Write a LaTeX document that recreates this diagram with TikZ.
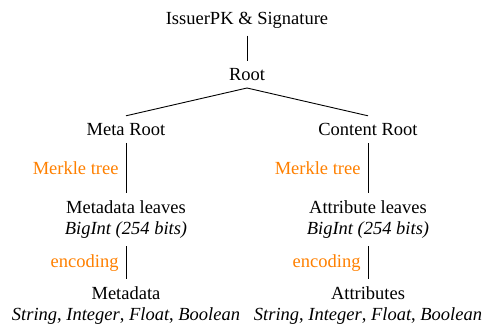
\documentclass[tikz,border=0pt]{standalone}
\usepackage{fontspec}
\setmainfont{Liberation Serif}
\usepackage{xcolor}
\usepackage{tikz}

\begin{document}
\begin{tikzpicture}[x=1pt, y=1pt, line width=.9pt,
    every node/.style={draw=none, inner sep=7pt, anchor=north, align=center,
        font=\fontsize{18.5}{21}\selectfont},
    lbl/.style={left, text=orange}]
            \useasboundingbox (0,0) rectangle (483,-333);

            \node (sig) at (247, -4.4) {IssuerPK \& Signature};
            \node (root) at (247, -60.8) {Root};
            \node (meta) at (126, -115.8) {Meta Root};
            \node (content) at (368, -115.8) {Content Root};
            \node (mleaves) at (126, -193.4) {Metadata leaves\\\textit{BigInt (254 bits)}};
            \node (aleaves) at (368, -193.4) {Attribute leaves\\\textit{BigInt (254 bits)}};
            \node (mdata) at (126, -279.4) {Metadata\\\textit{String}, \textit{Integer}, \textit{Float}, \textit{Boolean}};
            \node (attrs) at (368, -279.4) {Attributes\\\textit{String}, \textit{Integer}, \textit{Float}, \textit{Boolean}};

            \draw (sig.south) -- (root.north);
            \draw (root.south) -- (meta.north);
            \draw (root.south) -- (content.north);
            \draw (meta.south) -- node[lbl] {Merkle tree} (mleaves.north);
            \draw (content.south) -- node[lbl] {Merkle tree} (aleaves.north);
            \draw (mleaves.south) -- node[lbl] {encoding} (mdata.north);
            \draw (aleaves.south) -- node[lbl] {encoding} (attrs.north);

            \end{tikzpicture}
\end{document}
